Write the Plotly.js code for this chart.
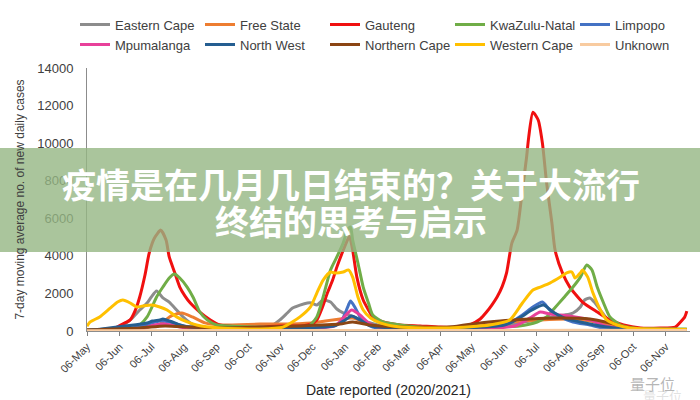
<!DOCTYPE html>
<html>
<head>
<meta charset="utf-8">
<script src="https://cdn.plot.ly/plotly-3.0.1.min.js"></script>
<style>html,body{margin:0;padding:0;background:#fff;}#chart{width:700px;height:400px;}</style>
</head>
<body>
<div id="chart"></div>
<script>
// ---- Data (7-day moving average of new daily cases) ----
const easternCapeDates = ['2020-05-06','2020-06-06','2020-06-16','2020-06-25','2020-07-02','2020-07-06','2020-07-11','2020-07-17','2020-07-23','2020-07-30','2020-08-05','2020-08-12','2020-08-21','2020-10-17','2020-10-26','2020-11-05','2020-11-12','2020-11-17','2020-11-24','2020-12-01','2020-12-05','2020-12-10','2020-12-16','2020-12-23','2020-12-29','2021-01-04','2021-01-10','2021-01-20','2021-01-30','2021-02-11','2021-04-15','2021-05-14','2021-06-20','2021-07-15','2021-08-02','2021-08-10','2021-08-17','2021-08-21','2021-08-26','2021-08-31','2021-09-07','2021-09-14','2021-09-24','2021-10-13','2021-11-26'];
const easternCape = [50,210,590,1120,1490,1810,2130,1760,1540,1120,750,430,210,160,210,590,960,1220,1380,1490,1490,1380,1650,1540,1170,960,850,590,430,270,160,210,430,690,850,960,1280,1650,1760,1490,960,480,270,110,60];

const freeStateDates = ['2020-05-06','2020-06-25','2020-07-14','2020-07-25','2020-08-04','2020-08-14','2020-08-26','2020-09-09','2020-10-17','2020-11-05','2020-12-05','2021-01-13','2021-01-30','2021-02-27','2021-04-15','2021-05-14','2021-06-11','2021-07-10','2021-08-07','2021-08-26','2021-09-14','2021-10-03','2021-11-26'];
const freeState = [20,100,370,800,960,750,430,320,370,370,430,690,320,160,160,270,480,590,640,530,320,160,50];

const gautengDates = ['2020-05-06','2020-05-28','2020-06-03','2020-06-11','2020-06-16','2020-06-21','2020-06-25','2020-06-30','2020-07-04','2020-07-09','2020-07-15','2020-07-20','2020-07-23','2020-07-28','2020-08-02','2020-08-07','2020-08-12','2020-08-21','2020-08-31','2020-09-09','2020-09-28','2020-10-17','2020-11-05','2020-11-24','2020-12-04','2020-12-10','2020-12-15','2020-12-20','2020-12-25','2020-12-29','2021-01-03','2021-01-08','2021-01-10','2021-01-13','2021-01-17','2021-01-23','2021-01-28','2021-02-01','2021-02-11','2021-02-27','2021-03-18','2021-04-06','2021-04-25','2021-05-04','2021-05-14','2021-05-20','2021-05-25','2021-05-30','2021-06-04','2021-06-08','2021-06-13','2021-06-18','2021-06-23','2021-06-27','2021-06-29','2021-07-03','2021-07-08','2021-07-12','2021-07-16','2021-07-21','2021-07-24','2021-07-31','2021-08-07','2021-08-19','2021-09-02','2021-09-14','2021-09-27','2021-10-13','2021-11-01','2021-11-15','2021-11-20','2021-11-24','2021-11-26'];
const gauteng = [50,60,200,430,590,1120,1810,2980,4150,4950,5370,4840,3940,3140,2340,1860,1490,1010,590,320,210,210,270,270,370,590,1220,2020,2710,3400,4150,4840,5050,4310,2870,1650,1120,750,480,320,270,210,210,320,640,1010,1380,1810,2390,3090,4680,5370,7500,9260,10320,11650,11230,10000,7870,5750,4310,3090,2340,1540,1010,590,320,160,160,210,480,750,1060];

const kznDates = ['2020-05-06','2020-06-22','2020-07-02','2020-07-11','2020-07-17','2020-07-23','2020-07-28','2020-08-02','2020-08-09','2020-08-15','2020-08-21','2020-08-28','2020-09-06','2020-10-17','2020-12-01','2020-12-10','2020-12-16','2020-12-23','2020-12-29','2021-01-04','2021-01-08','2021-01-11','2021-01-13','2021-01-18','2021-01-23','2021-01-28','2021-02-01','2021-02-11','2021-03-18','2021-05-14','2021-06-20','2021-07-07','2021-07-16','2021-07-22','2021-08-01','2021-08-10','2021-08-17','2021-08-23','2021-08-28','2021-09-02','2021-09-08','2021-09-14','2021-09-24','2021-10-06','2021-11-26'];
const kwazuluNatal = [50,210,750,1810,2340,2820,3030,2820,2340,1760,1010,590,320,210,210,750,1810,3250,3940,4680,5370,5530,4840,3620,2340,1490,850,480,210,210,270,480,750,1120,1760,2340,2870,3510,3250,2340,1490,750,320,160,100];

const limpopoDates = ['2020-05-06','2020-06-25','2020-07-04','2020-07-14','2020-07-23','2020-08-02','2020-08-16','2020-12-01','2021-01-01','2021-01-06','2021-01-09','2021-01-11','2021-01-15','2021-01-20','2021-01-25','2021-02-01','2021-03-18','2021-05-20','2021-06-11','2021-06-23','2021-07-03','2021-07-12','2021-07-19','2021-07-29','2021-08-10','2021-08-26','2021-09-08','2021-11-26'];
const limpopo = [20,210,370,530,480,320,160,100,430,960,1380,1600,1280,750,430,210,80,160,430,850,1280,1540,1120,750,480,320,160,50];

const mpumalangaDates = ['2020-05-06','2020-06-25','2020-07-09','2020-07-19','2020-08-02','2020-08-21','2020-12-27','2021-01-04','2021-01-12','2021-01-20','2021-01-28','2021-02-06','2021-03-18','2021-06-16','2021-06-30','2021-07-10','2021-07-19','2021-07-29','2021-08-12','2021-08-26','2021-09-10','2021-10-03','2021-11-26'];
const mpumalanga = [10,100,320,370,210,80,270,690,1120,850,430,210,60,270,690,1010,900,850,750,590,270,100,40];

const northWestDates = ['2020-05-06','2020-07-02','2020-07-07','2020-07-14','2020-07-17','2020-07-26','2020-08-02','2020-08-12','2020-09-28','2020-12-27','2021-01-06','2021-01-12','2021-01-20','2021-01-30','2021-03-18','2021-06-06','2021-06-20','2021-07-02','2021-07-13','2021-07-22','2021-08-02','2021-08-17','2021-09-05','2021-09-19','2021-11-26'];
const northWest = [20,430,530,590,640,480,320,210,100,270,590,800,590,270,100,320,690,1120,1380,1010,690,480,270,160,50];

const northernCapeDates = ['2020-05-06','2020-06-25','2020-07-19','2020-08-12','2020-09-09','2020-10-17','2020-11-24','2021-01-01','2021-01-13','2021-01-30','2021-02-27','2021-04-15','2021-05-14','2021-06-02','2021-06-30','2021-07-29','2021-08-26','2021-09-14','2021-10-03','2021-11-26'];
const northernCape = [50,160,270,210,160,210,270,370,480,320,210,210,430,530,640,690,640,430,160,50];

const westernCapeDates = ['2020-05-06','2020-05-09','2020-05-18','2020-05-28','2020-06-04','2020-06-09','2020-06-16','2020-06-22','2020-06-28','2020-07-06','2020-07-14','2020-07-21','2020-07-30','2020-08-09','2020-08-18','2020-09-09','2020-10-17','2020-11-08','2020-11-24','2020-12-04','2020-12-10','2020-12-16','2020-12-23','2020-12-27','2021-01-04','2021-01-09','2021-01-13','2021-01-18','2021-01-23','2021-01-30','2021-02-08','2021-02-27','2021-04-15','2021-05-23','2021-06-11','2021-06-23','2021-07-03','2021-07-10','2021-07-19','2021-07-29','2021-08-04','2021-08-09','2021-08-12','2021-08-17','2021-08-19','2021-08-24','2021-08-29','2021-09-05','2021-09-11','2021-09-21','2021-10-03','2021-11-26'];
const westernCape = [250,480,750,1220,1540,1650,1490,1280,1330,1380,1280,1120,750,480,320,160,110,210,750,1280,2020,2710,3140,3090,3140,3250,2870,1810,1120,690,430,210,160,320,590,1490,2180,2340,2550,2870,3090,3140,2820,3090,3250,2870,2020,1120,590,320,160,80];

const unknownDates = ['2020-05-06','2020-09-09','2021-01-10','2021-05-14','2021-08-10','2021-11-26'];
const unknown = [10,20,30,20,40,30];

const tickDates = ['2020-05-06','2020-06-06','2020-07-06','2020-08-06','2020-09-06','2020-10-06','2020-11-06','2020-12-06','2021-01-06','2021-02-06','2021-03-06','2021-04-06','2021-05-06','2021-06-06','2021-07-06','2021-08-06','2021-09-06','2021-10-06','2021-11-06'];
const tickLabels = ['06-May','06-Jun','06-Jul','06-Aug','06-Sep','06-Oct','06-Nov','06-Dec','06-Jan','06-Feb','06-Mar','06-Apr','06-May','06-Jun','06-Jul','06-Aug','06-Sep','06-Oct','06-Nov'];

const bannerLine1 = '疫情是在几月几日结束的？关于大流行';
const bannerLine2 = '终结的思考与启示';
const watermark = '量子位';

// ---- Traces ----
const series = [
  {name:'Eastern Cape', x:easternCapeDates, y:easternCape, color:'#8c8c8c'},
  {name:'Free State', x:freeStateDates, y:freeState, color:'#ed7d31'},
  {name:'Gauteng', x:gautengDates, y:gauteng, color:'#f01010'},
  {name:'KwaZulu-Natal', x:kznDates, y:kwazuluNatal, color:'#70ad47'},
  {name:'Limpopo', x:limpopoDates, y:limpopo, color:'#4472c4'},
  {name:'Mpumalanga', x:mpumalangaDates, y:mpumalanga, color:'#e8409a'},
  {name:'North West', x:northWestDates, y:northWest, color:'#255e91'},
  {name:'Northern Cape', x:northernCapeDates, y:northernCape, color:'#8b4513'},
  {name:'Western Cape', x:westernCapeDates, y:westernCape, color:'#ffc000'},
  {name:'Unknown', x:unknownDates, y:unknown, color:'#f8cba0'}
];
const traces = series.map(s => ({
  type:'scatter', mode:'lines', name:s.name, x:s.x, y:s.y,
  line:{color:s.color, width:3, shape:'spline', smoothing:0.6},
  hoverinfo:'x+y+name'
}));

const FONT = 'Liberation Sans, Arial, sans-serif';
const CJK = 'Noto Sans CJK SC, sans-serif';

const layout = {
  width:700, height:400,
  margin:{l:87, r:10, t:68, b:69},
  paper_bgcolor:'#ffffff', plot_bgcolor:'#ffffff',
  font:{family:FONT, color:'#404040', size:12},
  showlegend:true,
  legend:{orientation:'h', x:-0.015, xanchor:'left', y:1.222, yanchor:'top',
    font:{family:FONT, size:13, color:'#404040'}, entrywidth:80, entrywidthmode:'pixels',
    itemwidth:30, bgcolor:'rgba(0,0,0,0)', traceorder:'normal'},
  xaxis:{type:'date', range:['2020-05-06','2021-11-29'], tickvals:tickDates, ticktext:tickLabels,
    tickangle:-45, tickfont:{family:FONT, size:11, color:'#404040'},
    ticks:'outside', ticklen:4, tickcolor:'#7f7f7f', showgrid:false, zeroline:false,
    showline:true, linecolor:'#8c8c8c', linewidth:1,
    title:{text:'Date reported (2020/2021)', font:{family:FONT, size:14, color:'#262626'}, standoff:11}},
  yaxis:{range:[0,14000], dtick:2000, tickformat:'d', showgrid:false, zeroline:false,
    showline:true, linecolor:'#8c8c8c', linewidth:1, ticks:'', ticklabelstandoff:10,
    tickfont:{family:FONT, size:13, color:'#404040'},
    title:{text:'7-day moving average no. of new daily cases', font:{family:FONT, size:12, color:'#404040'}, standoff:10}},
  shapes:[{type:'rect', xref:'paper', yref:'paper', x0:-0.15, x1:1.02, y0:0.3004, y1:0.6958,
    fillcolor:'rgba(149,182,131,0.8)', line:{width:0}, layer:'above'}],
  annotations:[
    {xref:'paper', yref:'paper', x:0.4378, y:0.5627, text:'<b>'+bannerLine1+'</b>', showarrow:false,
      font:{family:CJK, size:34, color:'#ffffff'}, xanchor:'center', yanchor:'middle'},
    {xref:'paper', yref:'paper', x:0.4378, y:0.4183, text:'<b>'+bannerLine2+'</b>', showarrow:false,
      font:{family:CJK, size:34, color:'#ffffff'}, xanchor:'center', yanchor:'middle'},
    {xref:'paper', yref:'paper', x:0.937, y:-0.198, text:watermark, showarrow:false,
      font:{family:CJK, size:15, color:'rgba(150,150,150,0.7)'}, xanchor:'center', yanchor:'middle'},
    {xref:'paper', yref:'paper', x:0.955, y:-0.245, text:watermark, showarrow:false,
      font:{family:CJK, size:13, color:'rgba(190,190,190,0.45)'}, xanchor:'center', yanchor:'middle'}
  ]
};

Plotly.newPlot('chart', traces, layout, {displayModeBar:false, staticPlot:true});
</script>
</body>
</html>
